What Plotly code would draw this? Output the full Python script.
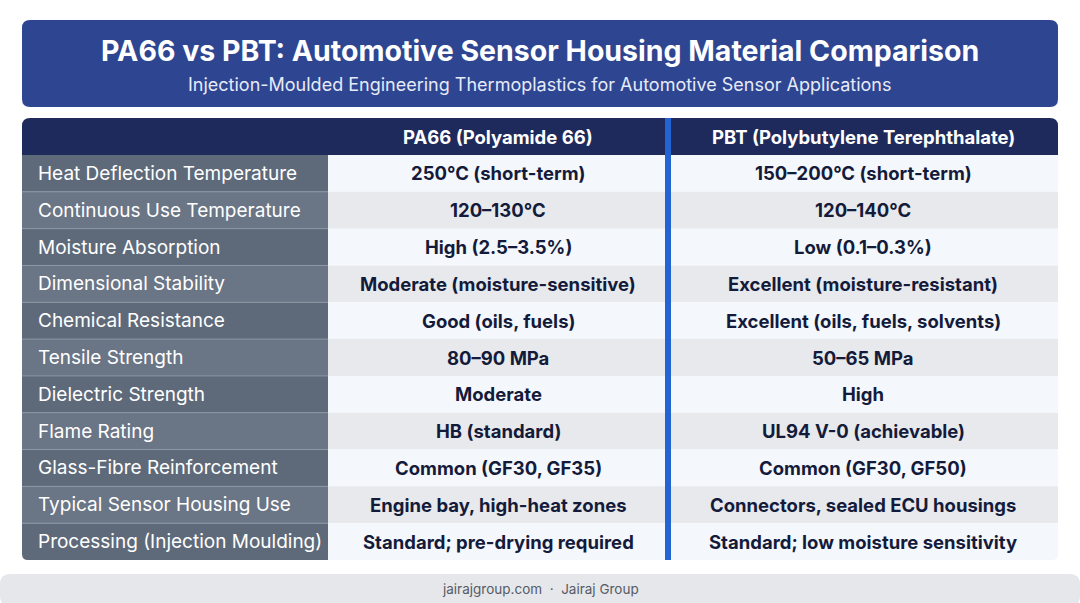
import plotly.graph_objects as go

title = "PA66 vs PBT: Automotive Sensor Housing Material Comparison"
subtitle = "Injection-Moulded Engineering Thermoplastics for Automotive Sensor Applications"
col_headers = ["PA66 (Polyamide 66)", "PBT (Polybutylene Terephthalate)"]
properties = ["Heat Deflection Temperature", "Continuous Use Temperature", "Moisture Absorption",
              "Dimensional Stability", "Chemical Resistance", "Tensile Strength", "Dielectric Strength",
              "Flame Rating", "Glass-Fibre Reinforcement", "Typical Sensor Housing Use",
              "Processing (Injection Moulding)"]
pa66 = ["250°C (short-term)", "120–130°C", "High (2.5–3.5%)", "Moderate (moisture-sensitive)",
        "Good (oils, fuels)", "80–90 MPa", "Moderate", "HB (standard)", "Common (GF30, GF35)",
        "Engine bay, high-heat zones", "Standard; pre-drying required"]
pbt = ["150–200°C (short-term)", "120–140°C", "Low (0.1–0.3%)", "Excellent (moisture-resistant)",
       "Excellent (oils, fuels, solvents)", "50–65 MPa", "High", "UL94 V-0 (achievable)",
       "Common (GF30, GF50)", "Connectors, sealed ECU housings", "Standard; low moisture sensitivity"]
footer = "jairajgroup.com  ·  Jairaj Group"

W, H = 1080, 603
FONT = "Inter"

def rr(x0, y0, x1, y1, r, tl=True, tr=True, br=True, bl=True):
    p = f"M{x0+(r if tl else 0)},{y0} L{x1-(r if tr else 0)},{y0} "
    p += f"Q{x1},{y0} {x1},{y0+r} " if tr else f"L{x1},{y0} "
    p += f"L{x1},{y1-(r if br else 0)} "
    p += f"Q{x1},{y1} {x1-r},{y1} " if br else f"L{x1},{y1} "
    p += f"L{x0+(r if bl else 0)},{y1} "
    p += f"Q{x0},{y1} {x0},{y1-r} " if bl else f"L{x0},{y1} "
    p += f"L{x0},{y0+(r if tl else 0)} "
    p += f"Q{x0},{y0} {x0+r},{y0} Z" if tl else f"L{x0},{y0} Z"
    return p

shapes, ann = [], []
shapes.append(dict(type="path", path=rr(22, 20, 1058, 107, 8), fillcolor="#2e4592", line_width=0, layer="below"))
ann.append(dict(x=540, y=50, text=f"<b>{title}</b>", font=dict(size=28.5, color="white", family=FONT), showarrow=False))
ann.append(dict(x=540, y=84, text=subtitle, font=dict(size=18, color="#e6ebf7", family=FONT), showarrow=False))

x0, xa, xb, x1 = 22, 328, 668, 1058
top, hh = 118, 37
rh = (560 - 155) / len(properties)
shapes.append(dict(type="path", path=rr(x0, top, x1, top + hh, 8, bl=False, br=False), fillcolor="#1e2a5c", line_width=0, layer="below"))
ann.append(dict(x=(xa + xb) / 2, y=top + hh / 2, text=f"<b>{col_headers[0]}</b>", font=dict(size=18.5, color="white", family=FONT), showarrow=False))
ann.append(dict(x=(xb + x1) / 2, y=top + hh / 2, text=f"<b>{col_headers[1]}</b>", font=dict(size=18.5, color="white", family=FONT), showarrow=False))

for i, (p, a, b) in enumerate(zip(properties, pa66, pbt)):
    y0 = 155 + i * rh
    y1 = y0 + rh
    last = i == len(properties) - 1
    lc = "#5e6a7a" if i % 2 == 0 else "#6a7585"
    dc = "#f4f7fc" if i % 2 == 0 else "#e7e9ed"
    shapes.append(dict(type="path", path=rr(x0, y0, xa, y1, 6, tl=False, tr=False, br=False, bl=last), fillcolor=lc, line_width=0, layer="below"))
    shapes.append(dict(type="path", path=rr(xa, y0, x1, y1, 6, tl=False, tr=False, bl=False, br=last), fillcolor=dc, line_width=0, layer="below"))
    if not last:
        shapes.append(dict(type="line", x0=x0, x1=xa, y0=y1, y1=y1, line=dict(color="#8d96a3", width=1)))
    yc = (y0 + y1) / 2
    ann.append(dict(x=36, y=yc, xanchor="left", text=p, font=dict(size=19, color="white", family=FONT), showarrow=False))
    ann.append(dict(x=(xa + xb) / 2, y=yc, text=f"<b>{a}</b>", font=dict(size=18.5, color="#141b3a", family=FONT), showarrow=False))
    ann.append(dict(x=(xb + x1) / 2, y=yc, text=f"<b>{b}</b>", font=dict(size=18.5, color="#141b3a", family=FONT), showarrow=False))

shapes.append(dict(type="rect", x0=665, x1=671, y0=118, y1=560, fillcolor="#2264d1", line_width=0))
shapes.append(dict(type="path", path=rr(0, 574, 1080, 606, 10), fillcolor="#e6e7ea", line_width=0, layer="below"))
ann.append(dict(x=540, y=589, text=footer, font=dict(size=13.5, color="#555b66", family=FONT), showarrow=False))

fig = go.Figure()
fig.update_layout(width=W, height=H, margin=dict(l=0, r=0, t=0, b=0),
                  paper_bgcolor="white", plot_bgcolor="white",
                  xaxis=dict(range=[0, W], visible=False, fixedrange=True),
                  yaxis=dict(range=[H, 0], visible=False, fixedrange=True),
                  shapes=shapes, annotations=ann, showlegend=False)
fig.write_html("out.html", config={"displayModeBar": False})

with open("out.html", encoding="utf-8") as f:
    html = f.read()
html = html.replace("<head>", "<head><style>html,body{margin:0;padding:0;overflow:hidden;}</style>", 1)
with open("out.html", "w", encoding="utf-8") as f:
    f.write(html)
